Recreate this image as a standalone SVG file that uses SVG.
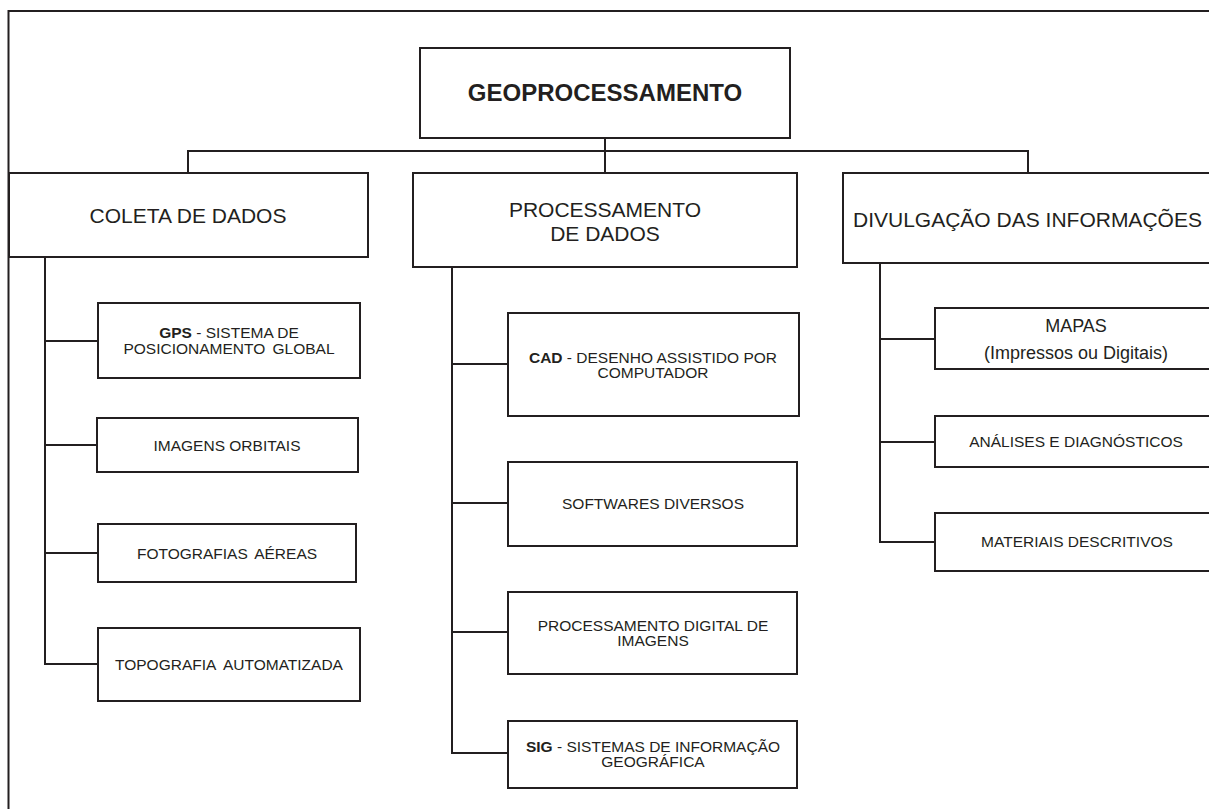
<svg xmlns="http://www.w3.org/2000/svg" width="1209" height="809" viewBox="0 0 1209 809">
<style>
.box{fill:#fff;stroke:#231f20;stroke-width:2}
.ln{fill:none;stroke:#231f20;stroke-width:2}
text{font-family:"Liberation Sans",Arial,sans-serif;fill:#231f20;text-anchor:middle}
.big{font-size:21px}
.sm{font-size:15.5px}
.b{font-weight:bold}
</style>
<rect width="1209" height="809" fill="#fff"/>
<g id="frame"><path class="ln" d="M8.5,809 V11 H1209"/></g>
<g id="connectors">
<path class="ln" d="M605,138 V173 M188,173 V151 H1028 V173"/>
<path class="ln" d="M45,257 V664 H98 M45,341 H98 M45,445 H97 M45,553 H98"/>
<path class="ln" d="M452,267 V753 H508 M452,364 H508 M452,503 H508 M452,632 H508"/>
<path class="ln" d="M880,263 V542 H935 M880,339 H935 M880,442 H935"/>
</g>
<g id="geo"><rect class="box" x="420" y="48" width="370" height="90"/><text class="b" x="605" y="101" font-size="24">GEOPROCESSAMENTO</text></g>
<g id="coleta"><rect class="box" x="9" y="173" width="359" height="84"/><text class="big" x="188" y="223">COLETA DE DADOS</text></g>
<g id="processamento"><rect class="box" x="413" y="173" width="384" height="94"/><text class="big" x="605" y="217">PROCESSAMENTO</text><text class="big" x="605" y="241">DE DADOS</text></g>
<g id="divulgacao"><rect class="box" x="843" y="173" width="380" height="90"/><text class="big" x="853" y="227" style="text-anchor:start">DIVULGAÇÃO DAS INFORMAÇÕES</text></g>
<g id="gps"><rect class="box" x="98" y="303" width="262" height="75"/><text class="sm" x="229" y="338"><tspan class="b">GPS</tspan> - SISTEMA DE</text><text class="sm" x="229" y="354" word-spacing="3">POSICIONAMENTO GLOBAL</text></g>
<g id="imagens"><rect class="box" x="97" y="418" width="261" height="54"/><text class="sm" x="227" y="451">IMAGENS ORBITAIS</text></g>
<g id="foto"><rect class="box" x="98" y="524" width="258" height="58"/><text class="sm" x="227" y="559" word-spacing="3">FOTOGRAFIAS AÉREAS</text></g>
<g id="topo"><rect class="box" x="98" y="628" width="262" height="73"/><text class="sm" x="229" y="670" word-spacing="4">TOPOGRAFIA AUTOMATIZADA</text></g>
<g id="cad"><rect class="box" x="508" y="313" width="291" height="103"/><text class="sm" x="653" y="363"><tspan class="b">CAD</tspan> - DESENHO ASSISTIDO POR</text><text class="sm" x="653" y="378">COMPUTADOR</text></g>
<g id="softwares"><rect class="box" x="508" y="462" width="289" height="84"/><text class="sm" x="653" y="509">SOFTWARES DIVERSOS</text></g>
<g id="pdi"><rect class="box" x="508" y="592" width="289" height="82"/><text class="sm" x="653" y="631">PROCESSAMENTO DIGITAL  DE</text><text class="sm" x="653" y="646">IMAGENS</text></g>
<g id="sig"><rect class="box" x="508" y="721" width="289" height="67"/><text class="sm" x="653" y="752"><tspan class="b">SIG</tspan> - SISTEMAS DE INFORMAÇÃO</text><text class="sm" x="653" y="767">GEOGRÁFICA</text></g>
<g id="mapas"><rect class="box" x="935" y="308" width="290" height="61"/><text x="1076" y="332" font-size="18">MAPAS</text><text x="1076" y="359" font-size="18">(Impressos ou Digitais)</text></g>
<g id="analises"><rect class="box" x="935" y="416" width="290" height="51"/><text class="sm" x="1076" y="447">ANÁLISES E DIAGNÓSTICOS</text></g>
<g id="materiais"><rect class="box" x="935" y="513" width="290" height="58"/><text class="sm" x="1077" y="547">MATERIAIS DESCRITIVOS</text></g>
</svg>
